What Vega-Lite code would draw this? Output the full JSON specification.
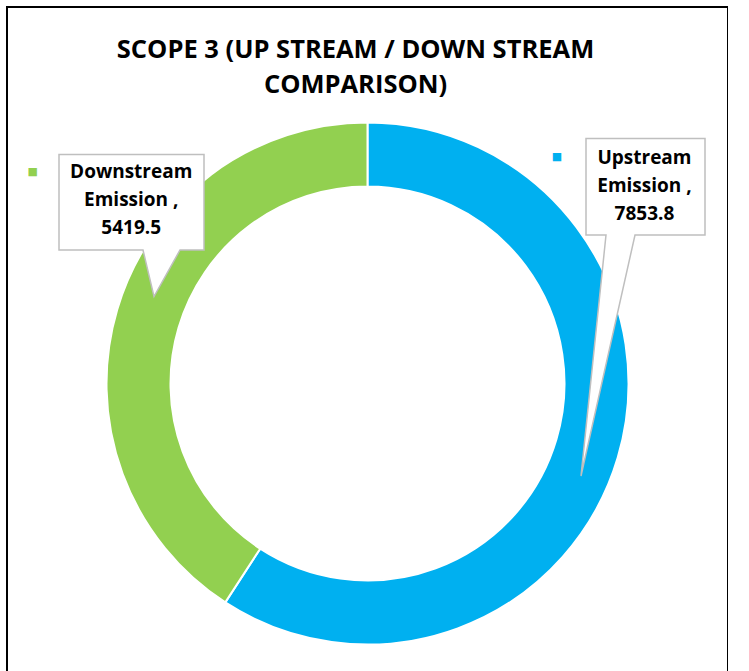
{
  "$schema": "https://vega.github.io/schema/vega-lite/v6.json",
  "autosize": {"type": "none"},
  "padding": {"left": 7, "top": 7, "right": 0, "bottom": 0},
  "width": 721,
  "height": 753,
  "background": "white",
  "view": {"stroke": "#000000", "strokeWidth": 2, "fill": "white"},
  "config": {"view": {"stroke": "#000000", "strokeWidth": 2}},
  "title": {
    "text": ["SCOPE 3 (UP STREAM / DOWN STREAM", "COMPARISON)"],
    "font": "Open Sans",
    "fontSize": 25.5,
    "fontWeight": "bold",
    "color": "#000000",
    "anchor": "middle",
    "dx": -12,
    "offset": -91,
    "lineHeight": 35
  },
  "data": {
    "values": [
      {"Category": "Upstream Emission", "Emission": 7853.8},
      {"Category": "Downstream Emission", "Emission": 5419.5}
    ]
  },
  "transform": [
    {"calculate": "split(datum.Category, ' ')[0] + '\\n' + split(datum.Category, ' ')[1] + ' ,\\n' + format(datum.Emission, '.1f')", "as": "label"}
  ],
  "encoding": {
    "color": {
      "field": "Category",
      "type": "nominal",
      "scale": {"domain": ["Upstream Emission", "Downstream Emission"], "range": ["#00B0F0", "#92D050"]},
      "legend": null
    }
  },
  "layer": [
    {
      "mark": {"type": "arc", "innerRadius": 197, "outerRadius": 261, "stroke": "white", "strokeWidth": 2},
      "encoding": {
        "theta": {"field": "Emission", "type": "quantitative", "stack": true},
        "order": {"field": "Category", "sort": "descending"}
      }
    },
    {
      "transform": [{"filter": "datum.Category == 'Upstream Emission'"}],
      "mark": {
        "type": "point",
        "shape": "M218.5,-245H337.5V-148.5H267.5L213.5,92.5L238.5,-148.5H218.5Z M-308.5,-229H-163.5V-133.5H-187.5L-213.5,-87L-224.5,-133.5H-308.5Z",
        "size": 4,
        "filled": true,
        "fill": "white",
        "stroke": "#BFBFBF",
        "strokeWidth": 1.5,
        "opacity": 1,
        "fillOpacity": 1
      },
      "encoding": {"color": {"value": "white"}}
    },
    {
      "transform": [{"filter": "datum.Category == 'Upstream Emission'"}],
      "mark": {"type": "text", "font": "Open Sans", "fontSize": 19, "fontWeight": "bold", "lineBreak": "\n", "lineHeight": 28, "align": "center", "baseline": "middle", "dy": -28},
      "encoding": {"text": {"field": "label"}, "theta": {"value": 0.952}, "radius": {"value": 340}, "color": {"value": "#000000"}}
    },
    {
      "transform": [{"filter": "datum.Category == 'Downstream Emission'"}],
      "mark": {"type": "text", "font": "Open Sans", "fontSize": 19, "fontWeight": "bold", "lineBreak": "\n", "lineHeight": 28, "align": "center", "baseline": "middle", "dy": -28},
      "encoding": {"text": {"field": "label"}, "theta": {"value": 5.372}, "radius": {"value": 299}, "color": {"value": "#000000"}}
    },
    {
      "transform": [{"filter": "datum.Category == 'Upstream Emission'"}],
      "mark": {"type": "text", "font": "DejaVu Sans", "fontSize": 11, "align": "center", "baseline": "middle", "text": "■"},
      "encoding": {"theta": {"value": 0.697}, "radius": {"value": 295}}
    },
    {
      "transform": [{"filter": "datum.Category == 'Downstream Emission'"}],
      "mark": {"type": "text", "font": "DejaVu Sans", "fontSize": 11, "align": "center", "baseline": "middle", "text": "■"},
      "encoding": {"theta": {"value": 5.276}, "radius": {"value": 396}}
    }
  ]
}
